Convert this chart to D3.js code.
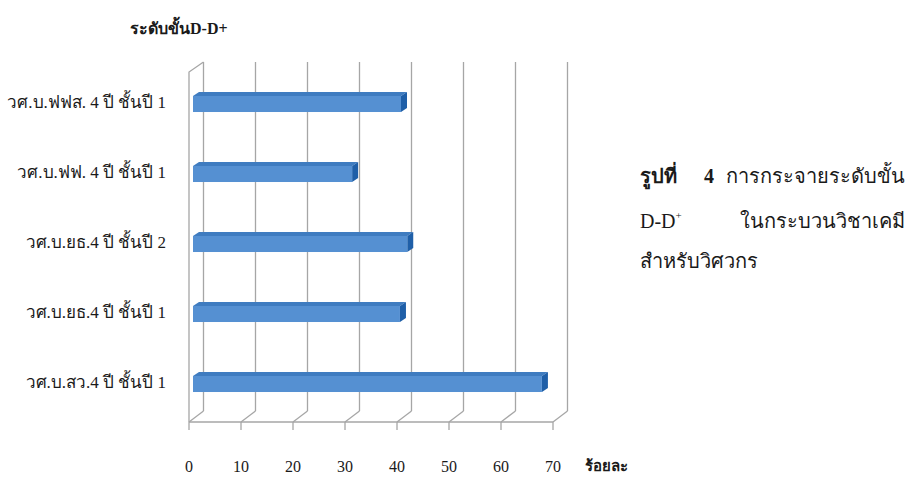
<!DOCTYPE html>
<html lang="th">
<head>
    <meta charset="UTF-8">
    <title>ระดับขั้น D-D+</title>
    <script src="https://d3js.org/d3.v7.min.js"></script>
    <style>
        body {
            margin: 0;
            background-color: #ffffff;
            font-family: "Liberation Serif", "DejaVu Serif", serif;
        }
        svg text {
            fill: #1a1a1a;
        }
        .grid {
            stroke: #a6a6a6;
            stroke-width: 1.3;
            fill: none;
        }
    </style>
</head>
<body>
    <svg id="chart" width="914" height="478"></svg>

    <script>
        // data (percent)
        const categories = [
            "วศ.บ.ฟฟส. 4 ปี ชั้นปี 1",
            "วศ.บ.ฟฟ. 4 ปี ชั้นปี 1",
            "วศ.บ.ยธ.4 ปี ชั้นปี 2",
            "วศ.บ.ยธ.4 ปี ชั้นปี 1",
            "วศ.บ.สว.4 ปี ชั้นปี 1"
        ];
        const values = [40, 30.6, 41.2, 39.8, 67.1];
        const ticks = [0, 10, 20, 30, 40, 50, 60, 70];

        const svg = d3.select("#chart");

        // 3D box: front plane and back plane offset
        const depthX = 14.5, depthY = 11;
        const frontTop = 72, frontFloor = 422;
        const x = d3.scaleLinear().domain([0, 70]).range([189, 553]);
        const y = d3.scaleBand().domain(categories).range([67, 417])
            .paddingInner(0.714).paddingOuter(0.357);

        const bx = v => x(v) + depthX;   // back wall x
        const backTop = frontTop - depthY + 1;
        const backFloor = frontFloor - depthY;

        const grid = svg.append("g");

        // back wall gridlines + floor diagonals
        ticks.forEach(t => {
            grid.append("line").attr("class", "grid")
                .attr("x1", bx(t)).attr("x2", bx(t))
                .attr("y1", backTop).attr("y2", backFloor);
            grid.append("line").attr("class", "grid")
                .attr("x1", bx(t)).attr("y1", backFloor)
                .attr("x2", x(t)).attr("y2", frontFloor);
            grid.append("line").attr("class", "grid")
                .attr("x1", x(t)).attr("x2", x(t))
                .attr("y1", frontFloor).attr("y2", frontFloor + 8);
        });

        // left side wall
        grid.append("path").attr("class", "grid")
            .attr("d", `M${x(0)},${frontFloor} L${x(0)},${frontTop} L${bx(0)},${backTop}`);
        // floor front edge
        grid.append("line").attr("class", "grid")
            .attr("x1", x(0)).attr("x2", x(70))
            .attr("y1", frontFloor).attr("y2", frontFloor);

        // bars
        const barOff = 4, barDX = 6, barDY = 4;
        const bars = svg.append("g").selectAll("g").data(categories).enter().append("g");

        bars.append("path")   // top face
            .attr("fill", "#3f7cc0")
            .attr("d", (d, i) => {
                const x0 = x(0) + barOff, x1 = x(values[i]) + barOff, y0 = y(d) + barDY;
                return `M${x0},${y0} L${x0 + barDX},${y0 - barDY} L${x1 + barDX},${y0 - barDY} L${x1},${y0} Z`;
            });

        bars.append("path")   // side face
            .attr("fill", "#1f5fa8")
            .attr("d", (d, i) => {
                const x1 = x(values[i]) + barOff, y0 = y(d) + barDY, y1 = y(d) + y.bandwidth();
                return `M${x1},${y0} L${x1 + barDX},${y0 - barDY} L${x1 + barDX},${y1 - barDY} L${x1},${y1} Z`;
            });

        bars.append("rect")   // front face
            .attr("fill", "#5590d2")
            .attr("x", x(0) + barOff)
            .attr("y", d => y(d) + barDY)
            .attr("width", (d, i) => x(values[i]) - x(0))
            .attr("height", y.bandwidth() - barDY);

        // category labels
        svg.append("g").selectAll("text").data(categories).enter().append("text")
            .attr("x", 166)
            .attr("y", d => y(d) + y.bandwidth() / 2 + 6)
            .attr("text-anchor", "end")
            .style("font-size", "17px")
            .text(d => d);

        // value tick labels
        svg.append("g").selectAll("text").data(ticks).enter().append("text")
            .attr("x", d => x(d))
            .attr("y", 472)
            .attr("text-anchor", "middle")
            .style("font-size", "16px")
            .text(d => d);

        svg.append("text")
            .attr("x", 585).attr("y", 471)
            .style("font-size", "15px").style("font-weight", "bold")
            .text("ร้อยละ");

        svg.append("text")
            .attr("x", 130).attr("y", 34)
            .style("font-size", "16px").style("font-weight", "bold")
            .text("ระดับขั้นD-D+");

        // caption on the right
        const cap = svg.append("g").style("font-size", "20px");
        cap.append("text").attr("x", 640).attr("y", 183)
            .style("font-weight", "bold").text("รูปที่");
        cap.append("text").attr("x", 704).attr("y", 183)
            .style("font-weight", "bold").text("4");
        cap.append("text").attr("x", 905).attr("y", 183).attr("text-anchor", "end")
            .text("การกระจายระดับขั้น");
        const l2 = cap.append("text").attr("x", 640).attr("y", 228);
        l2.append("tspan").text("D-D");
        l2.append("tspan").attr("dy", -9).style("font-size", "11px").text("+");
        cap.append("text").attr("x", 905).attr("y", 228).attr("text-anchor", "end")
            .text("ในกระบวนวิชาเคมี");
        cap.append("text").attr("x", 640).attr("y", 268).text("สำหรับวิศวกร");
    </script>
</body>
</html>
